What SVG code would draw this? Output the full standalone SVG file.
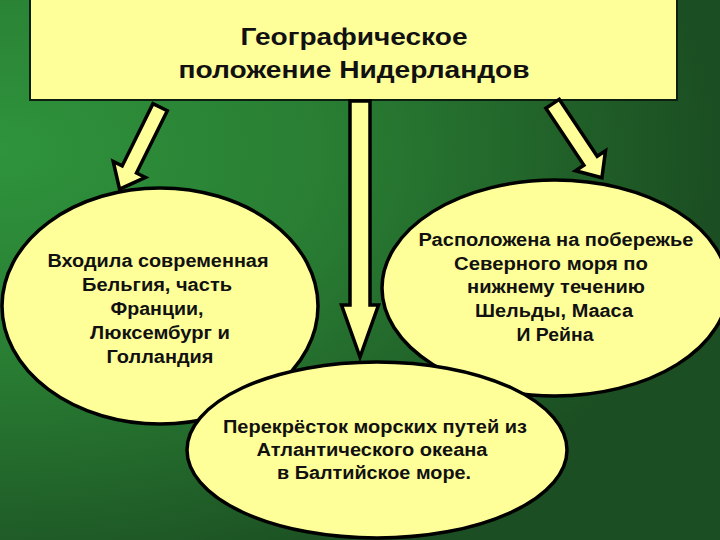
<svg xmlns="http://www.w3.org/2000/svg" width="720" height="540" viewBox="0 0 720 540">
<defs>
<radialGradient id="bg" gradientUnits="userSpaceOnUse" cx="0" cy="150" r="1" gradientTransform="translate(0 150) scale(720 460) translate(0 -150)" fx="0" fy="150">
<stop offset="0" stop-color="#2e933c"/>
<stop offset="0.45" stop-color="#297e33"/>
<stop offset="1" stop-color="#1b4e22"/>
</radialGradient>
<style>
.shape{fill:#ffff99;stroke:#000;stroke-width:3.5}
.box{fill:#ffff99;stroke:#0d1f10;stroke-width:2}
.arrow{fill:#ffff99;stroke:#000;stroke-width:3.5;stroke-linejoin:miter}
.t{font-family:"Liberation Sans",Arial,sans-serif;font-weight:bold;fill:#111;text-anchor:middle}
.title{font-size:24px}
.body{font-size:18px}
</style>
</defs>
<rect x="0" y="0" width="720" height="540" fill="url(#bg)"/>
<g id="title">
<rect class="box" x="30" y="-2" width="647" height="102"/>
<text class="t title" x="354" y="45" textLength="227" lengthAdjust="spacingAndGlyphs">Географическое</text>
<text class="t title" x="354" y="78" textLength="351" lengthAdjust="spacingAndGlyphs">положение Нидерландов</text>
</g>
<g id="node-left">
<ellipse class="shape" cx="160" cy="306" rx="158" ry="118"/>
<text class="t body" x="158" y="267" textLength="221" lengthAdjust="spacingAndGlyphs">Входила современная</text>
<text class="t body" x="157" y="291" textLength="150" lengthAdjust="spacingAndGlyphs">Бельгия, часть</text>
<text class="t body" x="157" y="315" textLength="93" lengthAdjust="spacingAndGlyphs">Франции,</text>
<text class="t body" x="160" y="339" textLength="140" lengthAdjust="spacingAndGlyphs">Люксембург и</text>
<text class="t body" x="160" y="363" textLength="107" lengthAdjust="spacingAndGlyphs">Голландия</text>
</g>
<g id="node-right">
<ellipse class="shape" cx="555" cy="288" rx="173" ry="108"/>
<text class="t body" x="556" y="246" textLength="275" lengthAdjust="spacingAndGlyphs">Расположена на побережье</text>
<text class="t body" x="551" y="270" textLength="194" lengthAdjust="spacingAndGlyphs">Северного моря по</text>
<text class="t body" x="556" y="293" textLength="178" lengthAdjust="spacingAndGlyphs">нижнему течению</text>
<text class="t body" x="554" y="317" textLength="158" lengthAdjust="spacingAndGlyphs">Шельды, Мааса</text>
<text class="t body" x="555" y="341" textLength="77" lengthAdjust="spacingAndGlyphs">И Рейна</text>
</g>
<g id="node-bottom">
<ellipse class="shape" cx="377" cy="450" rx="190" ry="88"/>
<text class="t body" x="375" y="433" textLength="304" lengthAdjust="spacingAndGlyphs">Перекрёсток морских путей из</text>
<text class="t body" x="372" y="456" textLength="231" lengthAdjust="spacingAndGlyphs">Атлантического океана</text>
<text class="t body" x="374" y="479" textLength="194" lengthAdjust="spacingAndGlyphs">в Балтийское море.</text>
</g>
<g id="connectors">
<polygon class="arrow" transform="translate(160.8 105.8) rotate(116.3)" points="1.5,-8 71,-8 71,-18 93,0 71,18 71,8 1.5,8"/>
<polygon class="arrow" points="350,101 370,101 370,305 378.5,305 360,357 341.5,305 350,305"/>
<polygon class="arrow" transform="translate(551.7 102.5) rotate(56.3)" points="1.5,-8 70,-8 70,-18 90.5,0 70,18 70,8 1.5,8"/>
</g>
</svg>
